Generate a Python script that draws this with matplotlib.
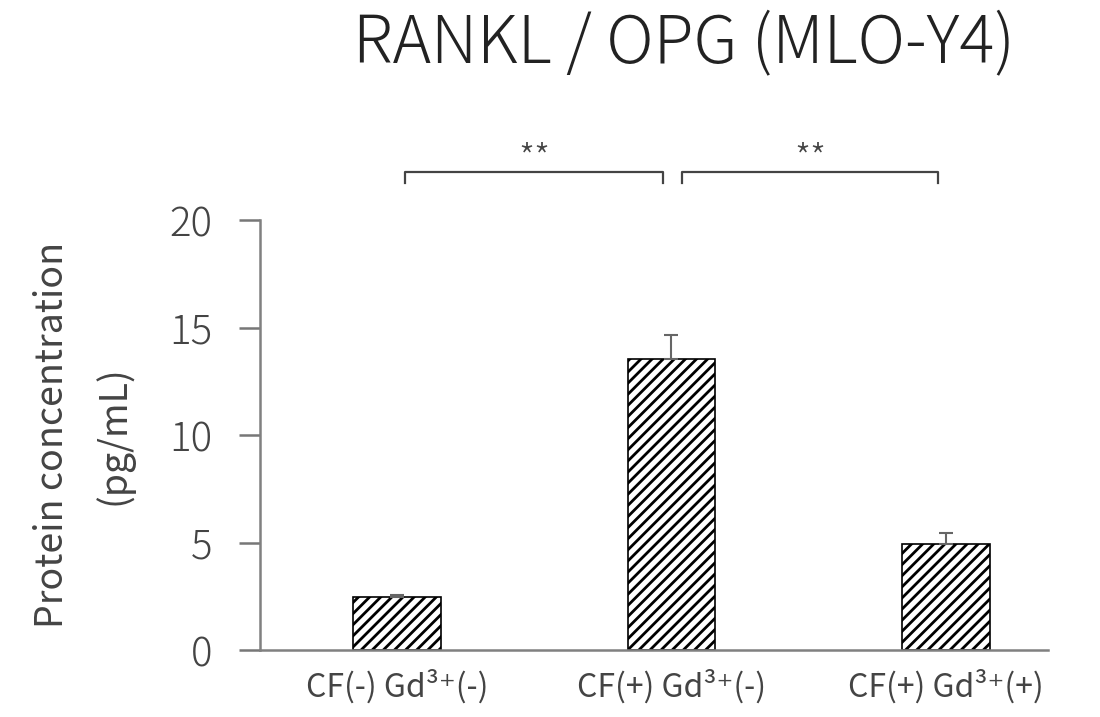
import matplotlib
matplotlib.use('Agg')
import matplotlib.pyplot as plt
import numpy as np

plt.rcParams['font.family'] = ['Noto Sans CJK JP', 'DejaVu Sans']
plt.rcParams['font.weight'] = 'light'
plt.rcParams['hatch.linewidth'] = 2.0

# data
groups = ['CF(-) Gd³⁺(-)', 'CF(+) Gd³⁺(-)', 'CF(+) Gd³⁺(+)']
values = [2.45, 13.55, 4.95]
errors = [0.1, 1.1, 0.5]
yticks = [0, 5, 10, 15, 20]
# significance brackets: (start group, end group, label)
sig_pairs = [(0, 1, '**'), (1, 2, '**')]

fig = plt.figure(figsize=(11, 7.17), dpi=100)
ax = fig.add_axes([0.2364, 0.0934, 0.7164, 0.5997])

x = np.arange(len(values))
ax.bar(x, values, width=0.32, color='white', edgecolor='black',
       linewidth=1.2, hatch='///', zorder=2)
ax.errorbar(x, values, yerr=[np.zeros(len(errors)), errors], fmt='none',
            ecolor='#666666', elinewidth=1.5, capsize=5, capthick=1.5, zorder=3)

ax.set_xlim(-0.499, 2.372)
ax.set_ylim(0, 20)
ax.set_yticks(yticks)
ax.tick_params(axis='y', labelsize=29, length=15, width=1.8, color='#777777',
               pad=19, labelcolor='#444444')
ax.set_xticks(x)
ax.set_xticklabels(groups, fontsize=23, color='#444444', fontweight='normal',
                   family=['Noto Sans CJK JP', 'DejaVu Sans'])
ax.tick_params(axis='x', length=0, pad=14)

for s in ['top', 'right']:
    ax.spines[s].set_visible(False)
for s in ['left', 'bottom']:
    ax.spines[s].set_color('#808080')
    ax.spines[s].set_linewidth(1.8)

ax.set_ylabel('Protein concentration\n(pg/mL)', fontsize=27, color='#444444',
              labelpad=26, linespacing=1.7)

# significance brackets
for a, b, lab in sig_pairs:
    x0 = a + 0.03 if a == 0 else a + 0.04
    x1 = b - 0.03
    y_top, y_bot = 22.25, 21.7
    ax.plot([x0, x0, x1, x1], [y_bot, y_top, y_top, y_bot], color='#444444',
            lw=1.6, clip_on=False)
    ax.text((x0 + x1) / 2, y_top - 0.35, lab, ha='center', va='bottom',
            fontsize=26, color='#444444', clip_on=False)

fig.text(0.622, 0.937, 'RANKL / OPG (MLO-Y4)', ha='center', va='center',
         fontsize=47, color='#222222')

fig.savefig('out.png', dpi=100)
